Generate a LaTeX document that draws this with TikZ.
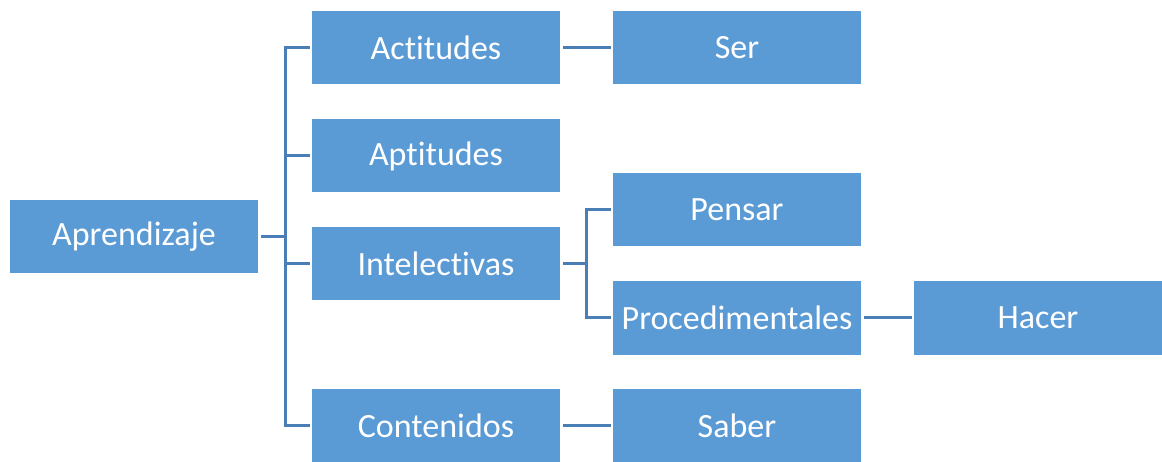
\documentclass[tikz,border=0pt]{standalone}
\usepackage{fontspec}
\setmainfont{Carlito}[Ligatures=NoCommon]
\definecolor{boxblue}{HTML}{5B9BD5}
\definecolor{lineblue}{HTML}{4A7EB6}
\tikzset{
  box/.style={fill=boxblue, text=white, minimum width=248pt, minimum height=73pt,
    inner sep=0pt, font=\fontsize{34}{40}\selectfont},
  link/.style={draw=lineblue, line width=3pt, shorten <=3pt, shorten >=2pt}
}
\begin{document}
\begin{tikzpicture}[x=1pt, y=-1pt]
% Set the canvas size
\useasboundingbox (0,0) rectangle (1162,462);

% Draw the boxes
\node[box] (aprendizaje) at (134,237) {Aprendizaje};
\node[box] (actitudes) at (436,47.5) {Actitudes};
\node[box] (aptitudes) at (436,156) {Aptitudes};
\node[box] (intelectivas) at (436,264) {Intelectivas};
\node[box] (contenidos) at (436,425.5) {Contenidos};
\node[box] (ser) at (737,47.5) {Ser};
\node[box] (pensar) at (737,210) {Pensar};
\node[box] (procedimentales) at (737,318) {Procedimentales};
\node[box] (saber) at (737,425.5) {Saber};
\node[box] (hacer) at (1038,318) {Hacer};

% Draw the connectors
\foreach \child in {actitudes, aptitudes, intelectivas, contenidos}
  \draw[link] (aprendizaje.east) -- ++(27,0) |- (\child.west);
\foreach \child in {pensar, procedimentales}
  \draw[link] (intelectivas.east) -- ++(26,0) |- (\child.west);
\draw[link] (actitudes) -- (ser);
\draw[link] (contenidos) -- (saber);
\draw[link] (procedimentales) -- (hacer);
\end{tikzpicture}
\end{document}
